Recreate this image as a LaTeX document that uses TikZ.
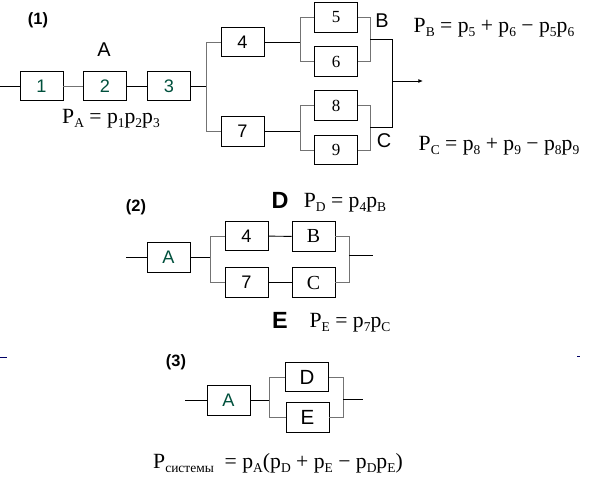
\documentclass[tikz,border=0pt]{standalone}
\usepackage{fontspec}
\setmainfont{Liberation Serif}
\setsansfont{Liberation Sans}
\usetikzlibrary{arrows.meta}
\definecolor{digreen}{RGB}{0,80,60}
\newcommand{\sbs}[1]{\raisebox{-0.5ex}{\fontsize{11.5}{11.5}\selectfont #1}}

\begin{document}
\begin{tikzpicture}[
    x=0.03cm, y=-0.03cm,
    blk/.style={draw, line width=0.8pt, minimum width=1.29cm, minimum height=0.88cm, inner sep=0pt, font=\sffamily\fontsize{15.5}{15.5}\selectfont},
    sblk/.style={blk, font=\rmfamily\fontsize{14.5}{14.5}\selectfont},
    wire/.style={line width=0.8pt},
    gwire/.style={line width=0.8pt, draw=black!55},
    lbl/.style={font=\sffamily\fontsize{17}{17}\selectfont},
    big/.style={font=\sffamily\bfseries\fontsize{20}{20}\selectfont},
    num/.style={font=\sffamily\bfseries\fontsize{14}{14}\selectfont},
    frm/.style={font=\rmfamily\fontsize{18.5}{18.5}\selectfont, anchor=base, inner sep=0pt}
]
\useasboundingbox (0,0) rectangle (590,500);

% (1) full system
\node[num] (t1) at (38,20) {(1)};
\node[blk, text=digreen] (b1) at (41.5,86) {1};
\node[blk, text=digreen] (b2) at (105,86) {2};
\node[blk, text=digreen] (b3) at (169,86) {3};
\node[blk] (b4) at (242.5,42) {4};
\node[blk] (b7) at (242.5,131.5) {7};
\node[sblk] (b5) at (336,17.5) {5};
\node[sblk] (b6) at (336,61.5) {6};
\node[sblk] (b8) at (336,105.5) {8};
\node[sblk] (b9) at (336,150) {9};
\node[lbl] (lA) at (104,50) {A};
\node[lbl] (lB) at (382,21) {B};
\node[lbl] (lC) at (384,141) {C};
\node[frm] (fA) at (111,123) {P\sbs{A} = p\sbs{1}p\sbs{2}p\sbs{3}};
\node[frm] (fB) at (494,32) {P\sbs{B} = p\sbs{5} + p\sbs{6} − p\sbs{5}p\sbs{6}};
\node[frm] (fC) at (499,150) {P\sbs{C} = p\sbs{8} + p\sbs{9} − p\sbs{8}p\sbs{9}};

\coordinate (in1) at (0,86);
\coordinate (s1) at (206,86);
\coordinate (j4) at (300,42);
\coordinate (j7) at (300,131.5);
\coordinate (rB) at (370,39);
\coordinate (rC) at (370,127);
\coordinate (oB) at (392,39);
\coordinate (oC) at (392,127);
\coordinate (m1) at (392,81);
\coordinate (out1) at (423,81);

\draw[wire] (in1) -- (b1);
\draw[gwire] (b1) -- (b2);
\draw[wire] (b2) -- (b3);
\draw[wire] (b3) -- (s1);
\draw[gwire] (s1) |- (b4);
\draw[gwire] (s1) |- (b7);
\draw[wire] (b4) -- (j4);
\draw[wire] (b7) -- (j7);
\draw[gwire] (j4) |- (b5);
\draw[gwire] (j4) |- (b6);
\draw[gwire] (j7) |- (b8);
\draw[gwire] (j7) |- (b9);
\draw[gwire] (b5) -| (rB);
\draw[gwire] (b6) -| (rB);
\draw[gwire] (b8) -| (rC);
\draw[gwire] (b9) -| (rC);
\draw[wire] (rB) -- (oB) -- (oC) -- (rC);
\draw[wire, -{Latex[length=4pt, width=3.5pt]}] (m1) -- (out1);

% (2) reduced system
\node[num] (t2) at (136,207) {(2)};
\node[big] (lD) at (280,200) {D};
\node[big] (lE) at (280,320) {E};
\node[frm] (fD) at (345,207) {P\sbs{D} = p\sbs{4}p\sbs{B}};
\node[frm] (fE) at (350,327) {P\sbs{E} = p\sbs{7}p\sbs{C}};
\node[blk, text=digreen] (a2) at (168.5,257.5) {A};
\node[blk] (c4) at (246.5,236) {4};
\node[blk] (c7) at (246.5,282.5) {7};
\node[sblk, font=\rmfamily\fontsize{17}{17}\selectfont] (cB) at (313.5,236.5) {B};
\node[sblk, font=\rmfamily\fontsize{17}{17}\selectfont] (cC) at (313.5,282.5) {C};

\coordinate (in2) at (126,257.5);
\coordinate (s2) at (210,257.5);
\coordinate (r2) at (349,255);
\coordinate (out2) at (373,255);

\draw[wire] (in2) -- (a2);
\draw[wire] (a2) -- (s2);
\draw[gwire] (s2) |- (c4);
\draw[gwire] (s2) |- (c7);
\draw[wire] (c4) -- (cB);
\draw[wire] (c7) -- (cC);
\draw[gwire] (cB) -| (r2);
\draw[gwire] (cC) -| (r2);
\draw[wire] (r2) -- (out2);

% (3) final system
\node[num] (t3) at (176,362) {(3)};
\node[blk, text=digreen] (a3) at (228.5,400.5) {A};
\node[blk, font=\sffamily\fontsize{17.5}{17.5}\selectfont] (d3) at (307,377) {D};
\node[blk, font=\sffamily\fontsize{17.5}{17.5}\selectfont] (e3) at (307.5,417.5) {E};
\node[frm] (fS) at (278,468) {P\sbs{системы}\ \ = p\sbs{A}(p\sbs{D} + p\sbs{E} − p\sbs{D}p\sbs{E})};

\coordinate (in3) at (185,400.5);
\coordinate (s3) at (269,400.5);
\coordinate (r3) at (343,399);
\coordinate (out3) at (363,399);

\draw[wire] (in3) -- (a3);
\draw[wire] (a3) -- (s3);
\draw[gwire] (s3) |- (d3);
\draw[gwire] (s3) |- (e3);
\draw[gwire] (d3) -| (r3);
\draw[gwire] (e3) -| (r3);
\draw[wire] (r3) -- (out3);

% stray marks at the edges
\coordinate (mkL) at (0,357);
\coordinate (mkLe) at (7,357);
\coordinate (mkR) at (577,356);
\coordinate (mkRe) at (580,356);
\draw[wire, draw=blue!40!black] (mkL) -- (mkLe);
\draw[wire, draw=blue!40!black] (mkR) -- (mkRe);
\end{tikzpicture}
\end{document}
